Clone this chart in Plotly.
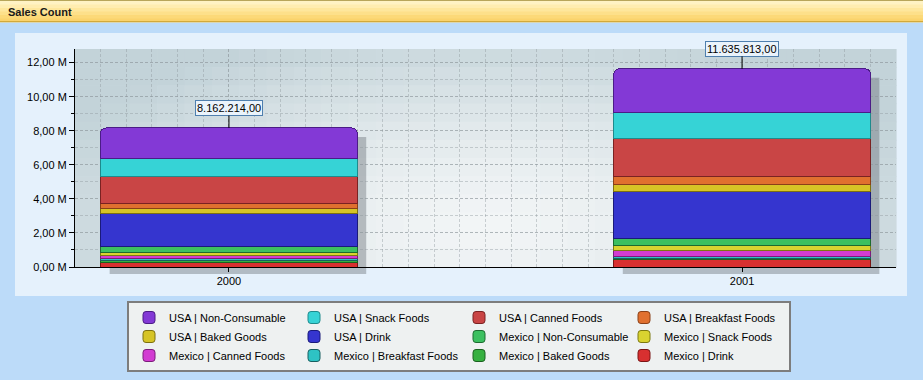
import plotly.graph_objects as go

# ---------------- data ----------------
years = [2000, 2001]
year_labels = ["2000", "2001"]

usa_non_consumable = [1812214, 2555813]
usa_snack_foods = [1030000, 1530000]
usa_canned_foods = [1570000, 2260000]
usa_breakfast_foods = [300000, 430000]
usa_baked_goods = [330000, 410000]
usa_drink = [1920000, 2780000]
mexico_non_consumable = [340000, 410000]
mexico_snack_foods = [190000, 280000]
mexico_canned_foods = [160000, 350000]
mexico_breakfast_foods = [130000, 120000]
mexico_baked_goods = [120000, 80000]
mexico_drink = [260000, 430000]

y_tick_vals = [0, 2000000, 4000000, 6000000, 8000000, 10000000, 12000000]
y_tick_text = ["0,00 M", "2,00 M", "4,00 M", "6,00 M", "8,00 M", "10,00 M", "12,00 M"]

# legend order (row-major, 4 per row)
series = [
    ("USA | Non-Consumable", usa_non_consumable, "#8339D6", "#4B1C86"),
    ("USA | Snack Foods", usa_snack_foods, "#36D3D6", "#1E8A8C"),
    ("USA | Canned Foods", usa_canned_foods, "#C94545", "#7A2222"),
    ("USA | Breakfast Foods", usa_breakfast_foods, "#E0702F", "#8A4018"),
    ("USA | Baked Goods", usa_baked_goods, "#D6C426", "#7D7010"),
    ("USA | Drink", usa_drink, "#3535CF", "#1A1A7A"),
    ("Mexico | Non-Consumable", mexico_non_consumable, "#3CC060", "#1D6B30"),
    ("Mexico | Snack Foods", mexico_snack_foods, "#D9D330", "#7D7A10"),
    ("Mexico | Canned Foods", mexico_canned_foods, "#D23CD2", "#7A1D7A"),
    ("Mexico | Breakfast Foods", mexico_breakfast_foods, "#2EC3C4", "#185F60"),
    ("Mexico | Baked Goods", mexico_baked_goods, "#36B040", "#1A601F"),
    ("Mexico | Drink", mexico_drink, "#D83030", "#7A1515"),
]

# ---------------- geometry ----------------
W, H = 923, 380
ML, MR, MT, MB = 75, 27, 49, 113
PW, PH = W - ML - MR, H - MT - MB
X_RANGE = [1999.7, 2001.3]
Y_RANGE = [0, 12800000]
BAR_W = 0.5
FONT = "Liberation Sans, Arial, sans-serif"


def px_to_paper_x(px):
    return (px - ML) / PW


def px_to_paper_y(py):
    return (H - MB - py) / PH


def data_to_px_x(v):
    return ML + (v - X_RANGE[0]) / (X_RANGE[1] - X_RANGE[0]) * PW


def data_to_px_y(v):
    return H - MB - (v - Y_RANGE[0]) / (Y_RANGE[1] - Y_RANGE[0]) * PH


def rect(x0, y0, x1, y1, fill, line=None, lw=0):
    return dict(type="rect", xref="paper", yref="paper", layer="below",
                x0=px_to_paper_x(x0), x1=px_to_paper_x(x1),
                y0=px_to_paper_y(y0), y1=px_to_paper_y(y1),
                fillcolor=fill, line=dict(color=line or fill, width=lw))


def mix(c1, c2, t):
    a = [int(c1[i:i + 2], 16) for i in (1, 3, 5)]
    b = [int(c2[i:i + 2], 16) for i in (1, 3, 5)]
    return "#%02x%02x%02x" % tuple(round(a[k] + (b[k] - a[k]) * t) for k in range(3))


shapes = []
# title bar
bands = ["#FFF3C4", "#FFEDB0", "#FEE79C", "#FDE08A", "#FCD978", "#FAD36C"]
bh = 21 / len(bands)
for i, c in enumerate(bands):
    shapes.append(rect(0, 1 + i * bh, W, 1 + (i + 1) * bh + 0.5, c))
shapes.append(dict(type="line", xref="paper", yref="paper", layer="below",
                   x0=px_to_paper_x(0), x1=px_to_paper_x(W),
                   y0=px_to_paper_y(0.5), y1=px_to_paper_y(0.5),
                   line=dict(color="#B8A65A", width=1)))
shapes.append(dict(type="line", xref="paper", yref="paper", layer="below",
                   x0=px_to_paper_x(0), x1=px_to_paper_x(W),
                   y0=px_to_paper_y(21.5), y1=px_to_paper_y(21.5),
                   line=dict(color="#D2A93C", width=1)))
# inner panel
shapes.append(rect(15, 33, 907, 296, "#E5F1FC"))

# plot area radial-like gradient
cols, rows = 30, 12
cx, cy, rx, ry = 485, 225, 470, 200
for i in range(cols):
    for j in range(rows):
        x0 = ML + PW * i / cols
        x1 = ML + PW * (i + 1) / cols
        y0 = MT + PH * j / rows
        y1 = MT + PH * (j + 1) / rows
        mx, my = (x0 + x1) / 2, (y0 + y1) / 2
        d = min(1.0, (((mx - cx) / rx) ** 2 + ((my - cy) / ry) ** 2) ** 0.5)
        shapes.append(rect(x0, y0, x1 + 0.6, y1 + 0.6, mix("#F2F5F6", "#C3D3D9", d ** 1.4)))

# bar shadows (derived from data through the axis mapping)
totals = [sum(s[1][k] for s in series) for k in range(len(years))]
for k, yr in enumerate(years):
    left = data_to_px_x(yr - BAR_W / 2) + 9
    right = data_to_px_x(yr + BAR_W / 2) + 9
    top = data_to_px_y(totals[k]) + 9
    bottom = data_to_px_y(0) + 7
    shapes.append(rect(left, top, right, bottom, "rgba(105,112,118,0.42)"))

# ---------------- figure ----------------
fig = go.Figure()
for rank, (name, vals, color, lcolor) in reversed(list(enumerate(series))):
    fig.add_trace(go.Bar(
        x=years, y=vals, name=name, width=BAR_W,
        marker=dict(color=color, line=dict(color=lcolor, width=1), cornerradius=5),
        legendrank=rank + 1,
    ))


def fmt(v):
    s = f"{v:,.2f}"
    return s.replace(",", "X").replace(".", ",").replace("X", ".")


annotations = []
for k, yr in enumerate(years):
    annotations.append(dict(
        x=yr, y=totals[k], xref="x", yref="y", text=fmt(totals[k]),
        showarrow=True, arrowhead=0, arrowwidth=1, arrowcolor="#000000",
        ax=0, ay=-20, font=dict(family=FONT, size=11, color="#000000"),
        bgcolor="#EAF3FB", bordercolor="#4F7FAE", borderwidth=1, borderpad=1,
    ))
annotations.append(dict(
    x=px_to_paper_x(6), y=px_to_paper_y(11.5), xref="paper", yref="paper",
    text="<b>Sales Count</b>", showarrow=False, xanchor="left", yanchor="middle",
    font=dict(family=FONT, size=11, color="#1A1A1A"),
))

grid_color = "rgba(140,150,156,0.42)"
fig.update_layout(
    width=W, height=H, autosize=False,
    margin=dict(l=ML, r=MR, t=MT, b=MB, pad=0, autoexpand=False),
    paper_bgcolor="#BCDBF9",
    plot_bgcolor="rgba(0,0,0,0)",
    barmode="stack",
    font=dict(family=FONT, size=11, color="#000000"),
    shapes=shapes,
    annotations=annotations,
    showlegend=True,
    legend=dict(
        orientation="h", x=px_to_paper_x(127), xanchor="left",
        y=px_to_paper_y(301), yanchor="top", traceorder="normal",
        entrywidth=120, entrywidthmode="pixels",
        bgcolor="#EEF1F1", bordercolor="#7D7D7D", borderwidth=2,
        font=dict(family=FONT, size=11, color="#000000"),
        tracegroupgap=0,
    ),
    xaxis=dict(
        range=X_RANGE, tickmode="array", tickvals=years, ticktext=year_labels,
        showline=True, linecolor="#000000", linewidth=1,
        ticks="outside", ticklen=4, tickcolor="#000000",
        showgrid=True, gridcolor=grid_color, griddash="3px,2px", gridwidth=1,
        minor=dict(tick0=2000, dtick=0.05, showgrid=True, gridcolor=grid_color,
                   griddash="3px,2px", gridwidth=1, ticks=""),
        zeroline=False, fixedrange=True, automargin=False,
        tickfont=dict(family=FONT, size=11, color="#000000"),
    ),
    yaxis=dict(
        range=Y_RANGE, tickmode="array", tickvals=y_tick_vals, ticktext=y_tick_text,
        showline=True, linecolor="#000000", linewidth=1,
        ticks="outside", ticklen=5, tickcolor="#000000",
        showgrid=True, gridcolor=grid_color, griddash="3px,2px", gridwidth=1,
        minor=dict(tick0=0, dtick=1000000, showgrid=True, gridcolor=grid_color,
                   griddash="3px,2px", gridwidth=1, ticks="outside", ticklen=3,
                   tickcolor="#000000"),
        zeroline=False, fixedrange=True, automargin=False,
        tickfont=dict(family=FONT, size=11, color="#000000"),
    ),
)

fig.write_html("out.html", config={"displayModeBar": False},
               post_script="document.body.style.margin='0px';")
